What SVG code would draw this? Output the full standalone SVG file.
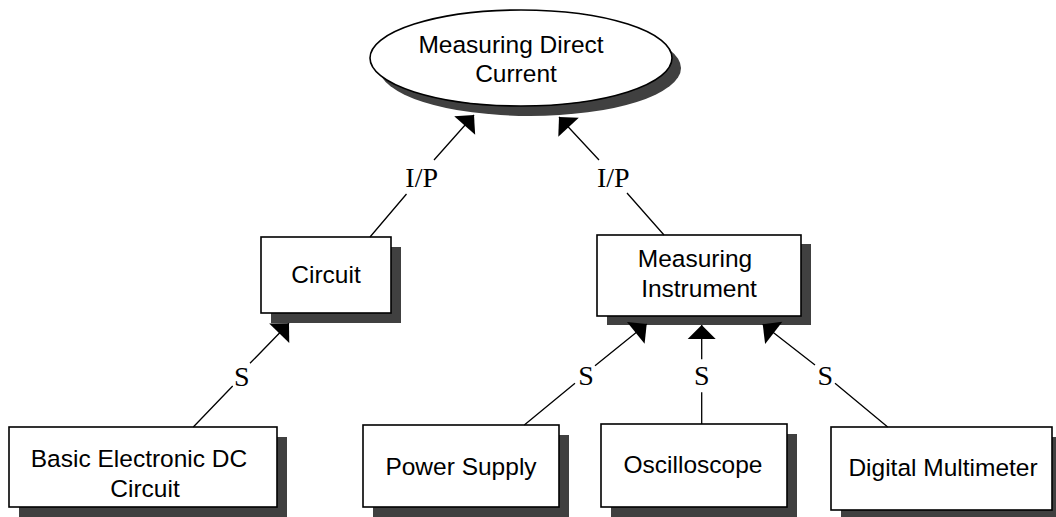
<svg xmlns="http://www.w3.org/2000/svg" width="1056" height="517" viewBox="0 0 1056 517">
<style>
.shadow{fill:#404040;stroke:none}
.box{fill:#fff;stroke:#000;stroke-width:1.6}
.t{font-family:"Liberation Sans",Arial,sans-serif;font-size:24.5px;fill:#000;text-anchor:middle}
.lbl{font-family:"Liberation Serif","Times New Roman",serif;font-size:28px;fill:#000;text-anchor:middle}
.edge{fill:none;stroke:#000;stroke-width:1.3;marker-end:url(#arr)}
</style>
<defs>
<marker id="arr" markerUnits="userSpaceOnUse" viewBox="-15 -15 16 30" refX="0" refY="0" markerWidth="16" markerHeight="30" orient="auto">
<path d="M0,0 L-14,-14 L-14,14 Z" fill="#000"/>
</marker>
</defs>
<rect width="1056" height="517" fill="#fff"/>

<g id="node-measuring-direct-current">
<ellipse class="shadow" cx="530" cy="68" rx="151" ry="48"/>
<ellipse class="box" cx="521" cy="58" rx="151" ry="48"/>
<text class="t" x="511" y="53">Measuring Direct</text>
<text class="t" x="516" y="82">Current</text>
</g>

<g id="node-circuit">
<rect class="shadow" x="271" y="247" width="130" height="76"/>
<rect class="box" x="261" y="237" width="130" height="76"/>
<text class="t" x="326" y="283">Circuit</text>
</g>

<g id="node-measuring-instrument">
<rect class="shadow" x="607" y="244" width="204" height="81"/>
<rect class="box" x="597" y="235" width="204" height="81"/>
<text class="t" x="695" y="267">Measuring</text>
<text class="t" x="699" y="297">Instrument</text>
</g>

<g id="node-basic-electronic-dc-circuit">
<rect class="shadow" x="19" y="437" width="268" height="80"/>
<rect class="box" x="9" y="427" width="268" height="80"/>
<text class="t" x="139" y="467">Basic Electronic DC</text>
<text class="t" x="145" y="497">Circuit</text>
</g>

<g id="node-power-supply">
<rect class="shadow" x="373" y="435" width="196" height="82"/>
<rect class="box" x="363" y="425" width="196" height="82"/>
<text class="t" x="461" y="475">Power Supply</text>
</g>

<g id="node-oscilloscope">
<rect class="shadow" x="611" y="434" width="186" height="83"/>
<rect class="box" x="601" y="424" width="186" height="83"/>
<text class="t" x="693" y="473">Oscilloscope</text>
</g>

<g id="node-digital-multimeter">
<rect class="shadow" x="841" y="437" width="221" height="83"/>
<rect class="box" x="831" y="427" width="221" height="83"/>
<text class="t" x="943" y="476">Digital Multimeter</text>
</g>

<g id="connectors">
<path class="edge" d="M370,237 L406.5,194 M434,160 L474,115"/>
<text class="lbl" x="421.7" y="186.7">I/P</text>
<path class="edge" d="M664,235 L627,193 M599,160 L559,117"/>
<text class="lbl" x="613.3" y="186.7">I/P</text>
<path class="edge" d="M193.3,427 L232.7,386 M250,363.3 L289,323.3"/>
<text class="lbl" x="241.7" y="386">S</text>
<path class="edge" d="M524.3,425 L575,383.3 M595,365.7 L646.7,324"/>
<text class="lbl" x="586" y="385">S</text>
<path class="edge" d="M701.7,424 L701.7,392.3 M701.7,359.3 L701.7,325"/>
<text class="lbl" x="701.7" y="385">S</text>
<path class="edge" d="M887.7,427 L835,383.3 M815,365 L762.7,324.3"/>
<text class="lbl" x="825.3" y="385">S</text>
</g>
</svg>
